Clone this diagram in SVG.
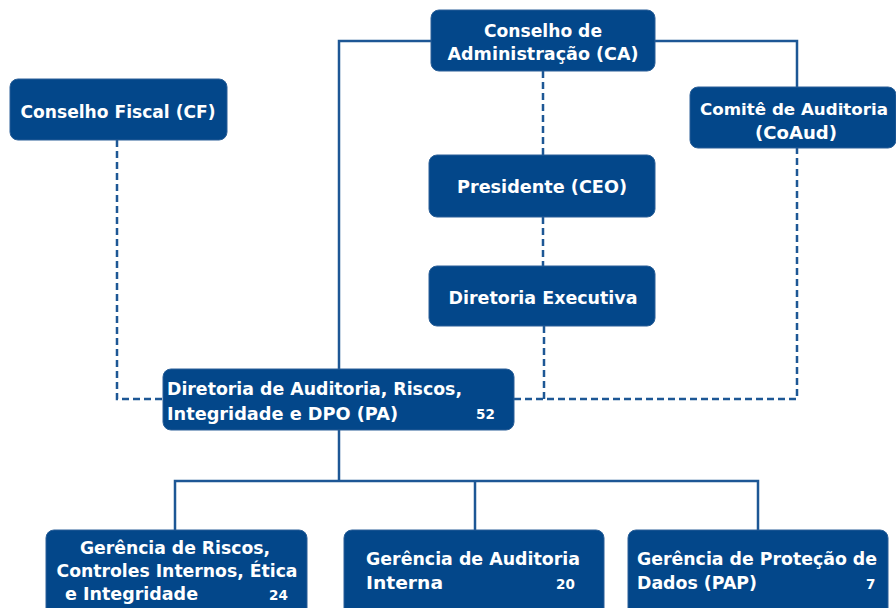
<svg xmlns="http://www.w3.org/2000/svg" width="896" height="608" viewBox="0 0 896 608">
<style>
.box{fill:#03478a;stroke:#2a5f98;stroke-width:1}
.t{font-family:"DejaVu Sans","Liberation Sans",sans-serif;font-weight:bold;font-size:18px;fill:#ffffff}
.c{text-anchor:middle}
.n{font-family:"DejaVu Sans","Liberation Sans",sans-serif;font-weight:bold;font-size:13.5px;fill:#ffffff}
.solid{fill:none;stroke:#1d5795;stroke-width:2.5}
.dash{fill:none;stroke:#1d5795;stroke-width:2.5;stroke-dasharray:7 4}
</style>
<rect width="896" height="608" fill="#ffffff"/>
<g id="connectors">
<path class="solid" d="M431,41 H339 V369"/>
<path class="solid" d="M655,41 H797 V88"/>
<path class="dash" d="M543,71 V155"/>
<path class="dash" d="M543,217 V266"/>
<path class="dash" d="M544,326 V399"/>
<path class="dash" d="M514,399 H797 V148"/>
<path class="dash" d="M117,140 V399 H163"/>
<path class="solid" d="M339,430 V481"/>
<path class="solid" d="M175,530 V481 H758 V530"/>
<path class="solid" d="M475,481 V530"/>
</g>
<g id="ca">
<rect class="box" x="431" y="10" width="224" height="61" rx="8"/>
<text class="t c" x="543" y="37" textLength="118" lengthAdjust="spacingAndGlyphs">Conselho de</text>
<text class="t c" x="543" y="60" textLength="191" lengthAdjust="spacingAndGlyphs">Administração (CA)</text>
</g>
<g id="cf">
<rect class="box" x="10" y="79" width="217" height="61" rx="8"/>
<text class="t c" x="118" y="118" textLength="195" lengthAdjust="spacingAndGlyphs">Conselho Fiscal (CF)</text>
</g>
<g id="coaud">
<rect class="box" x="690" y="87" width="206" height="61" rx="8"/>
<text class="t c" x="794" y="115" style="font-size:16px" textLength="188" lengthAdjust="spacingAndGlyphs">Comitê de Auditoria</text>
<text class="t c" x="796" y="139" textLength="82" lengthAdjust="spacingAndGlyphs">(CoAud)</text>
</g>
<g id="ceo">
<rect class="box" x="429" y="155" width="226" height="62" rx="8"/>
<text class="t c" x="542" y="193" textLength="170" lengthAdjust="spacingAndGlyphs">Presidente (CEO)</text>
</g>
<g id="direx">
<rect class="box" x="429" y="266" width="226" height="60" rx="8"/>
<text class="t c" x="543" y="304" textLength="189" lengthAdjust="spacingAndGlyphs">Diretoria Executiva</text>
</g>
<g id="pa">
<rect class="box" x="163" y="369" width="351" height="61" rx="8"/>
<text class="t" x="167" y="395" textLength="295" lengthAdjust="spacingAndGlyphs">Diretoria de Auditoria, Riscos,</text>
<text class="t" x="167" y="420" textLength="231" lengthAdjust="spacingAndGlyphs">Integridade e DPO (PA)</text>
<text class="n" x="476" y="419">52</text>
</g>
<g id="g-riscos">
<rect class="box" x="46" y="530" width="261" height="86" rx="8"/>
<text class="t c" x="175" y="554" textLength="190" lengthAdjust="spacingAndGlyphs">Gerência de Riscos,</text>
<text class="t c" x="177" y="577" textLength="241" lengthAdjust="spacingAndGlyphs">Controles Internos, Ética</text>
<text class="t" x="65" y="600" textLength="133" lengthAdjust="spacingAndGlyphs">e Integridade</text>
<text class="n" x="269" y="600">24</text>
</g>
<g id="g-auditoria">
<rect class="box" x="344" y="530" width="260" height="86" rx="8"/>
<text class="t" x="366" y="565" textLength="214" lengthAdjust="spacingAndGlyphs">Gerência de Auditoria</text>
<text class="t" x="366" y="589" textLength="77" lengthAdjust="spacingAndGlyphs">Interna</text>
<text class="n" x="556" y="589">20</text>
</g>
<g id="g-dados">
<rect class="box" x="628" y="530" width="260" height="86" rx="8"/>
<text class="t" x="637" y="565" textLength="240" lengthAdjust="spacingAndGlyphs">Gerência de Proteção de</text>
<text class="t" x="637" y="589" textLength="120" lengthAdjust="spacingAndGlyphs">Dados (PAP)</text>
<text class="n" x="866" y="589">7</text>
</g>
</svg>
